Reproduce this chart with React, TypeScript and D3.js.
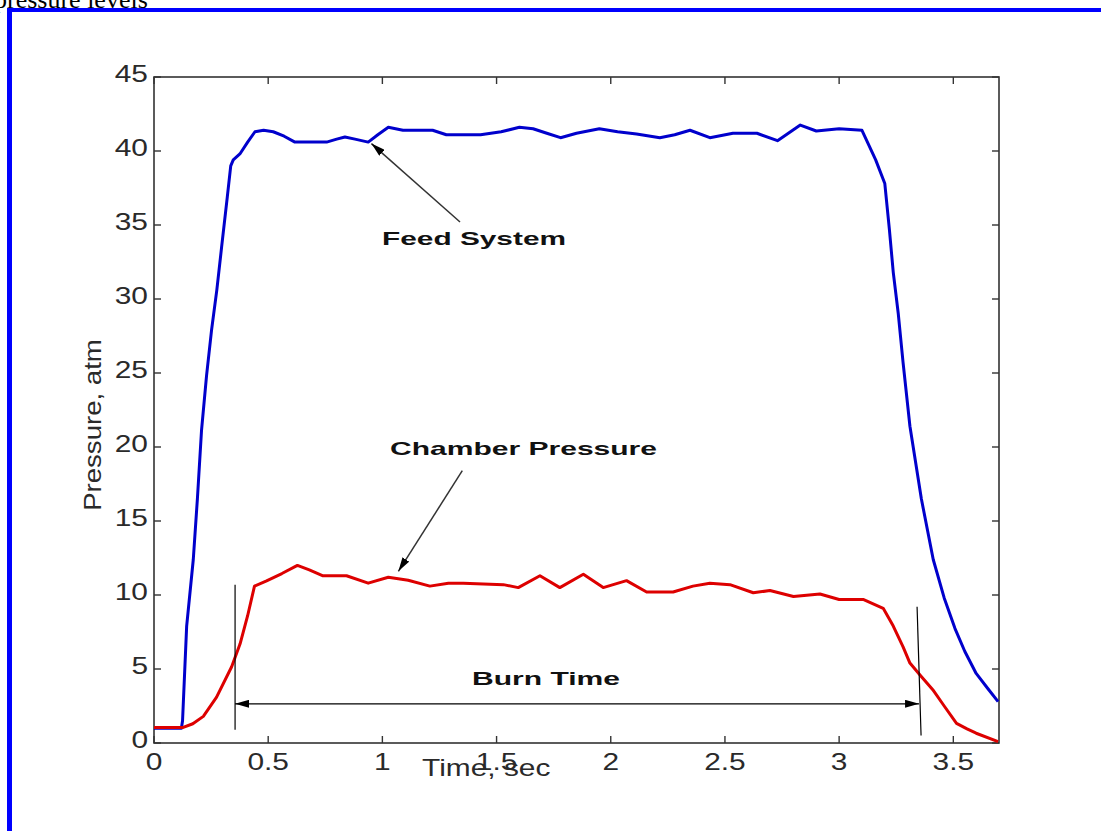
import React from "react";
import * as d3 from "d3";

const feedTime = [0, 0.12, 0.125, 0.143, 0.172, 0.19, 0.208, 0.23, 0.252, 0.275, 0.296, 0.321, 0.336, 0.347, 0.376, 0.41, 0.442, 0.48, 0.522, 0.57, 0.617, 0.69, 0.756, 0.8, 0.836, 0.88, 0.938, 0.98, 1.026, 1.09, 1.15, 1.22, 1.28, 1.35, 1.43, 1.52, 1.6, 1.66, 1.72, 1.78, 1.85, 1.95, 2.03, 2.113, 2.215, 2.28, 2.347, 2.434, 2.535, 2.64, 2.73, 2.83, 2.9, 3.0, 3.1, 3.16, 3.2, 3.22, 3.237, 3.259, 3.28, 3.31, 3.36, 3.412, 3.46, 3.507, 3.55, 3.6, 3.65, 3.696];
const feedPressure = [1, 1, 1.5, 7.9, 12.4, 16.5, 21.1, 24.8, 27.9, 30.6, 33.5, 36.9, 39.0, 39.4, 39.8, 40.6, 41.3, 41.4, 41.3, 41.0, 40.6, 40.6, 40.6, 40.8, 40.95, 40.8, 40.6, 41.1, 41.6, 41.4, 41.4, 41.4, 41.1, 41.1, 41.1, 41.3, 41.6, 41.5, 41.2, 40.9, 41.2, 41.5, 41.3, 41.15, 40.9, 41.1, 41.4, 40.9, 41.2, 41.2, 40.7, 41.75, 41.35, 41.5, 41.4, 39.4, 37.8, 34.7, 31.8, 29.0, 25.7, 21.4, 16.5, 12.4, 9.8, 7.75, 6.2, 4.7, 3.7, 2.8];

const chamberTime = [0, 0.128, 0.17, 0.216, 0.274, 0.34, 0.377, 0.41, 0.44, 0.493, 0.56, 0.628, 0.68, 0.74, 0.843, 0.938, 1.026, 1.113, 1.208, 1.289, 1.354, 1.53, 1.595, 1.69, 1.777, 1.88, 1.967, 2.069, 2.157, 2.273, 2.36, 2.434, 2.522, 2.624, 2.697, 2.8, 2.916, 3.0, 3.105, 3.193, 3.237, 3.28, 3.31, 3.354, 3.41, 3.46, 3.514, 3.56, 3.6, 3.696];
const chamberPressure = [1.05, 1.05, 1.3, 1.8, 3.1, 5.15, 6.7, 8.6, 10.6, 10.95, 11.45, 12.0, 11.7, 11.3, 11.3, 10.8, 11.2, 11.0, 10.6, 10.8, 10.8, 10.7, 10.5, 11.3, 10.5, 11.4, 10.5, 10.97, 10.2, 10.2, 10.6, 10.8, 10.7, 10.15, 10.3, 9.9, 10.07, 9.7, 9.7, 9.1, 7.9, 6.5, 5.4, 4.6, 3.6, 2.5, 1.33, 0.95, 0.66, 0.09];

const xTicks = [0, 0.5, 1, 1.5, 2, 2.5, 3, 3.5];
const xTickLabels = ["0", "0.5", "1", "1.5", "2", "2.5", "3", "3.5"];
const yTicks = [0, 5, 10, 15, 20, 25, 30, 35, 40, 45];
const yTickLabels = ["0", "5", "10", "15", "20", "25", "30", "35", "40", "45"];

const burnStart = 0.355;
const burnEnd = 3.35;

export default function App() {
  const W = 1101, H = 831;
  const x = d3.scaleLinear().domain([0, 3.7]).range([154, 999]);
  const y = d3.scaleLinear().domain([0, 45]).range([743, 77]);
  const line = d3.line<[number, number]>().x(d => x(d[0])).y(d => y(d[1]));
  const feed = feedTime.map((t, i) => [t, feedPressure[i]] as [number, number]);
  const chamber = chamberTime.map((t, i) => [t, chamberPressure[i]] as [number, number]);
  const axisColor = "#333";
  const font = "'Liberation Sans', Arial, Helvetica, sans-serif";
  const tickLen = 7;

  const arrowY = 2.65;

  return (
    <svg width={W} height={H} style={{ position: "absolute", left: 0, top: 0, background: "#fff" }}>
      <defs>
        <marker id="ah" viewBox="0 0 14 8" refX="14" refY="4" markerWidth="14" markerHeight="8" markerUnits="userSpaceOnUse" orient="auto-start-reverse">
          <path d="M0,0 L14,4 L0,8 Z" fill="#000" />
        </marker>
      </defs>
      <rect x={0} y={0} width={W} height={H} fill="#fff" />
      <text x={-6} y={8} fontFamily="'Liberation Serif', 'Times New Roman', serif" fontSize={26} fill="#000">pressure levels</text>
      <rect x={7} y={8} width={W} height={H} fill="#0000ff" />
      <rect x={12} y={12} width={W} height={H} fill="#fff" />

      {/* axes box */}
      <rect x={x(0)} y={y(45)} width={x(3.7) - x(0)} height={y(0) - y(45)} fill="none" stroke={axisColor} strokeWidth={1.6} />
      {xTicks.map((t, i) => (
        <g key={"xt" + i}>
          <line x1={x(t)} x2={x(t)} y1={y(0)} y2={y(0) - tickLen} stroke={axisColor} strokeWidth={1.4} />
          <line x1={x(t)} x2={x(t)} y1={y(45)} y2={y(45) + tickLen} stroke={axisColor} strokeWidth={1.4} />
          <text transform={`translate(${x(t)},${y(0) + 27}) scale(1.3,1)`} textAnchor="middle" fontFamily={font} fontSize={23} fill="#2a2a2a">{xTickLabels[i]}</text>
        </g>
      ))}
      {yTicks.map((v, i) => (
        <g key={"yt" + i}>
          <line x1={x(0)} x2={x(0) + tickLen} y1={y(v)} y2={y(v)} stroke={axisColor} strokeWidth={1.4} />
          <line x1={x(3.7)} x2={x(3.7) - tickLen} y1={y(v)} y2={y(v)} stroke={axisColor} strokeWidth={1.4} />
          <text transform={`translate(${x(0) - 6},${y(v) + 5}) scale(1.3,1)`} textAnchor="end" fontFamily={font} fontSize={23} fill="#2a2a2a">{yTickLabels[i]}</text>
        </g>
      ))}
      <text transform={`translate(422,776) scale(1.3,1)`} fontFamily={font} fontSize={23} fill="#2a2a2a">Time, sec</text>
      <text transform={`translate(101,425) rotate(-90) scale(1.2,1)`} textAnchor="middle" fontFamily={font} fontSize={23} fill="#2a2a2a">Pressure, atm</text>

      {/* data lines */}
      <path d={line(feed) || ""} fill="none" stroke="#0000cc" strokeWidth={3} strokeLinejoin="round" />
      <path d={line(chamber) || ""} fill="none" stroke="#dd0000" strokeWidth={3} strokeLinejoin="round" />

      {/* burn time markers */}
      <line x1={x(burnStart)} x2={x(burnStart)} y1={y(10.7)} y2={y(0.9)} stroke="#000" strokeWidth={1.2} />
      <line x1={x(burnEnd) - 2} x2={x(burnEnd) + 2} y1={y(9.2)} y2={y(0.5)} stroke="#000" strokeWidth={1.2} />
      <line x1={x(burnStart)} x2={x(burnEnd)} y1={y(arrowY)} y2={y(arrowY)} stroke="#000" strokeWidth={1.2} markerStart="url(#ah)" markerEnd="url(#ah)" />

      {/* annotations */}
      <line x1={x(1.34)} y1={y(35.2)} x2={x(0.952)} y2={y(40.5)} stroke="#333" strokeWidth={1.5} markerEnd="url(#ah)" />
      <line x1={x(1.35)} y1={y(18.4)} x2={x(1.07)} y2={y(11.6)} stroke="#333" strokeWidth={1.5} markerEnd="url(#ah)" />
      <text x={382} y={245} fontFamily={font} fontWeight="bold" fontSize={19} textLength={184} lengthAdjust="spacingAndGlyphs" fill="#111">Feed System</text>
      <text x={390} y={455} fontFamily={font} fontWeight="bold" fontSize={19} textLength={267} lengthAdjust="spacingAndGlyphs" fill="#111">Chamber Pressure</text>
      <text x={472} y={685} fontFamily={font} fontWeight="bold" fontSize={19} textLength={148} lengthAdjust="spacingAndGlyphs" fill="#111">Burn Time</text>
    </svg>
  );
}
